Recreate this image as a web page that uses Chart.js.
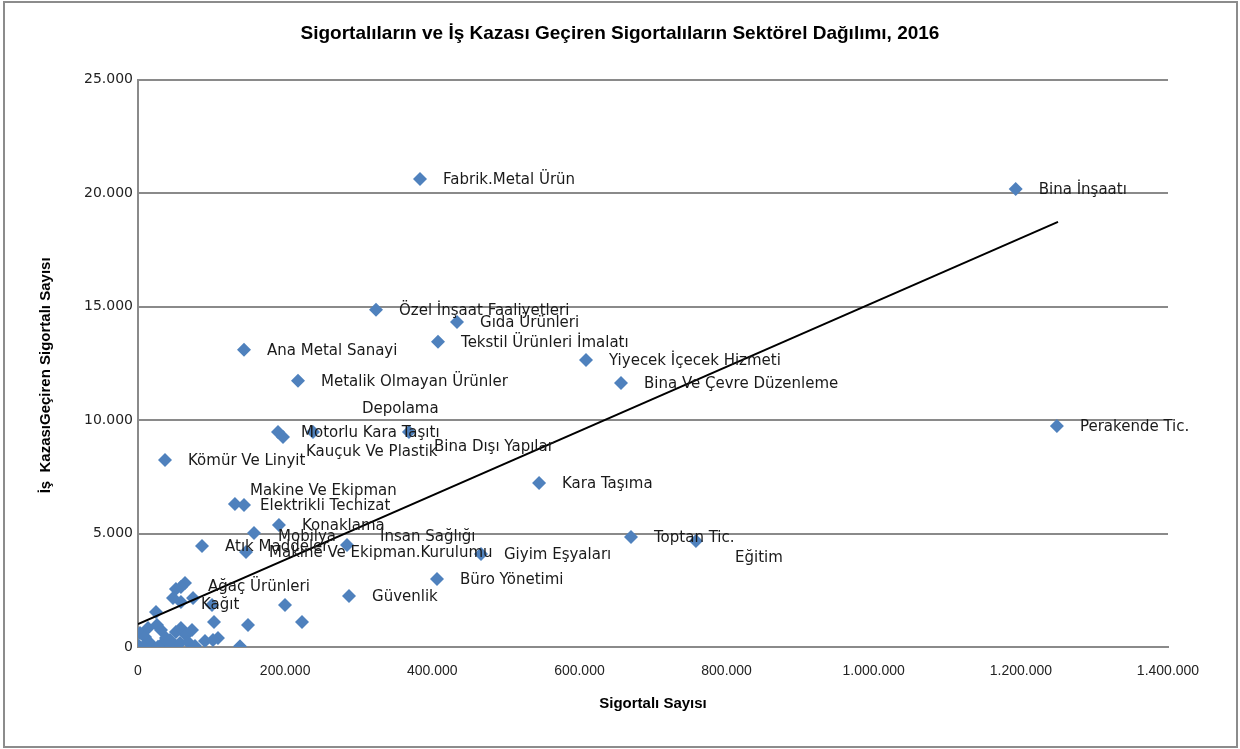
<!DOCTYPE html>
<html>
<head>
<meta charset="utf-8">
<script src="https://cdn.jsdelivr.net/npm/chart.js@4"></script>
<style>
  body { margin: 0; background: #fff; }
  #wrap { position: absolute; left: 0; top: 0; width: 1240px; height: 749px; }
  #frame { position: absolute; left: 3px; top: 1px; width: 1231px; height: 743px; border: 2px solid #8c8c8c; pointer-events: none; }
</style>
</head>
<body>
<div id="wrap">
  <canvas id="myChart" width="1240" height="749"></canvas>
  <div id="frame"></div>
</div>
<script>
// sektor adlari (bos = etiketsiz nokta)
const sectors = [
  'Bina İnşaatı', 'Fabrik.Metal Ürün', 'Perakende Tic.', 'Özel İnşaat Faaliyetleri', 'Gıda Ürünleri',
  'Tekstil Ürünleri İmalatı', 'Ana Metal Sanayi', 'Yiyecek İçecek Hizmeti', 'Bina Ve Çevre Düzenleme', 'Metalik Olmayan Ürünler',
  'Motorlu Kara Taşıtı', 'Kauçuk Ve Plastik', 'Depolama', 'Bina Dışı Yapılar', 'Kömür Ve Linyit',
  'Makine Ve Ekipman', 'Elektrikli Techizat', 'Kara Taşıma', 'Konaklama', 'Mobilya',
  'İnsan Sağlığı', 'Atık Maddeler', 'Makine Ve Ekipman.Kurulumu', 'Giyim Eşyaları', 'Toptan Tic.',
  'Eğitim', 'Büro Yönetimi', 'Güvenlik', 'Ağaç Ürünleri', 'Kağıt',
  '', '', '', '', '', '', '', '', '', '',
  '', '', '', '', '', '', '', '', '', '',
  '', '', '', '', '', '', '', '', '', '',
  '', '', '', '', ''
]
// Sigortalı Sayısı
const insured = [
  1193000, 383300, 1249000, 323500, 433600,
  407800, 144100, 608900, 656500, 217500,
  190300, 197100, 237900, 368300, 36700,
  131800, 144100, 545100, 191600, 157700,
  284100, 87000, 146800, 466200, 670100,
  758400, 406400, 286800, 63900, 58400,
  51600, 58400, 74800, 47600, 24500, 100600, 103300, 149500, 199800, 222900,
  108700, 91100, 138600, 25800, 2700, 9500, 31300, 51600, 58400, 65200,
  16300, 31300, 44900, 57100, 68000, 1000, 6800, 101900, 38100, 19000,
  77500, 43500, 13600, 73400, 27200
]
// İş Kazası Geçiren Sigortalı Sayısı
const accidents = [
  20190, 20630, 9740, 14860, 14330,
  13450, 13100, 12650, 11640, 11730,
  9480, 9260, 9480, 9480, 8245,
  6305, 6260, 7230, 5380, 5030,
  4500, 4450, 4190, 4100, 4850,
  4670, 3000, 2250, 2820, 1985,
  2560, 2645, 2160, 2160, 1545, 1850, 1100, 970, 1850, 1100,
  400, 265, 30, 970, 620, 440, 750, 660, 840, 530,
  175, 90, 20, 175, 220, 50, 10, 310, 400, 45,
  45, 310, 840, 750, 15
]
// egilim cizgisi uc noktalari
const trendX = [0, 1250500]
const trendY = [1014, 18740]

const xTicks = [0, 200000, 400000, 600000, 800000, 1000000, 1200000, 1400000]

const yTitle = 'İş  KazasıGeçiren Sigortalı Sayısı'

// etiket kaydirmalari (px)
const labelOffsets = {
  'Makine Ve Ekipman': [15, -13],
  'Elektrikli Techizat': [16, 1],
  'Kauçuk Ve Plastik': [23, 15],
  'Depolama': [49, -23],
  'Bina Dışı Yapılar': [25, 15],
  'İnsan Sağlığı': [33, -8],
  'Mobilya': [24, 4],
  'Eğitim': [39, 17],
  'Ağaç Ürünleri': [23, 4],
  'Kağıt': [20, 3]
}

function trFormat(v) {
  return String(Math.round(v)).replace(/\B(?=(\d{3})+(?!\d))/g, '.')
}

const pointLabels = {
  id: 'pointLabels',
  afterDatasetsDraw(chart) {
    const meta = chart.getDatasetMeta(0)
    const c = chart.ctx
    c.save()
    c.font = '15px "DejaVu Sans"'
    c.fillStyle = '#1a1a1a'
    c.textAlign = 'left'
    c.textBaseline = 'middle'
    for (let i = 0; i < meta.data.length; i++) {
      const name = sectors[i]
      if (!name) continue
      const off = labelOffsets[name] || [23, 1]
      c.fillText(name, meta.data[i].x + off[0], meta.data[i].y + off[1])
    }
    c.restore()

    // y ekseni basligi
    c.save()
    c.translate(46, chart.chartArea.top + (chart.chartArea.bottom - chart.chartArea.top) / 2 + 12)
    c.rotate(-Math.PI / 2)
    c.font = 'bold 15px "Liberation Sans"'
    c.fillStyle = '#000'
    c.textAlign = 'center'
    c.textBaseline = 'middle'
    c.fillText(yTitle, 0, 0)
    c.restore()
  }
}

const points = insured.map((x, i) => ({ x: x, y: accidents[i] }))
const trend = trendX.map((x, i) => ({ x: x, y: trendY[i] }))

const ctx = document.getElementById('myChart')

new Chart(ctx, {
  type: 'scatter',
  data: {
    datasets: [
      {
        label: 'Sektörler',
        data: points,
        pointStyle: 'rectRot',
        pointRadius: 7,
        pointHoverRadius: 7,
        borderWidth: 0,
        backgroundColor: '#4f81bd',
        order: 1
      },
      {
        type: 'line',
        label: 'Doğrusal',
        data: trend,
        borderColor: '#000',
        borderWidth: 2,
        pointRadius: 0,
        fill: false,
        order: 0
      }
    ]
  },
  options: {
    responsive: false,
    animation: false,
    layout: {
      padding: { left: 72, right: 72, top: 0, bottom: 32 }
    },
    plugins: {
      legend: { display: false },
      tooltip: { enabled: false },
      title: {
        display: true,
        text: 'Sigortalıların ve İş Kazası Geçiren Sigortalıların Sektörel Dağılımı, 2016',
        color: '#000',
        font: { family: 'Liberation Sans', size: 19, weight: 'bold' },
        padding: { top: 22, bottom: 35 }
      }
    },
    scales: {
      x: {
        type: 'linear',
        min: 0,
        max: 1400000,
        afterFit: function (scale) { scale.height = 70 },
        afterBuildTicks: function (scale) { scale.ticks = xTicks.map(v => ({ value: v })) },
        grid: { display: false, drawTicks: false },
        border: { display: true, color: '#8a8a8a', width: 2 },
        ticks: {
          padding: 16,
          color: '#222',
          font: { family: 'Liberation Sans', size: 14 },
          callback: v => trFormat(v)
        },
        title: {
          display: true,
          text: 'Sigortalı Sayısı',
          color: '#000',
          font: { family: 'Liberation Sans', size: 15, weight: 'bold' },
          padding: { top: 4, bottom: 4 }
        }
      },
      y: {
        min: 0,
        max: 25000,
        afterFit: function (scale) { scale.width = 66 },
        grid: { color: '#8a8a8a', lineWidth: 2, drawTicks: false },
        border: { display: true, color: '#8a8a8a', width: 2 },
        ticks: {
          stepSize: 5000,
          padding: 5,
          color: '#222',
          font: { family: 'DejaVu Sans', size: 14 },
          callback: v => trFormat(v)
        },
        title: { display: false }
      }
    }
  },
  plugins: [pointLabels]
})
</script>
</body>
</html>
